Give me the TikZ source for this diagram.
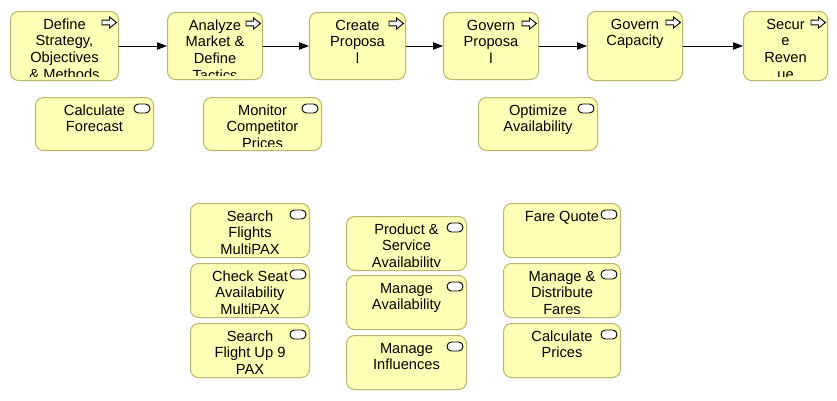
\documentclass[tikz,border=0pt]{standalone}
\usepackage{fontspec}
\setmainfont{Liberation Sans}
\usetikzlibrary{calc,arrows.meta}
\definecolor{boxfill}{RGB}{255,255,181}
\definecolor{boxline}{RGB}{185,180,110}
\tikzset{
  abox/.style={draw=boxline, fill=boxfill, line width=0.75pt, rounded corners=6pt, inner sep=0pt, rectangle},
  lbl/.style={inner sep=0pt, align=center, text=black, font={\fontsize{11pt}{12.5pt}\selectfont}},
  conn/.style={draw=black, line width=0.75pt, -{Triangle[length=7.5pt,width=5.5pt]}},
  procicon/.pic={
    \draw[line width=0.7pt, line join=miter, fill=white]
      (-17,9.2) -- (-9.5,9.2) -- (-9.5,6) -- (-2.5,11.5) -- (-9.5,17) -- (-9.5,13.8) -- (-17,13.8) -- cycle;
  },
  svcicon/.pic={
    \draw[line width=0.7pt, fill=white, rounded corners=3.3pt] (-20,7) rectangle (-4,16);
  }
}
\newcommand\archbox[7]{%
  \node[abox, minimum width={(#4-#2)*0.75pt}, minimum height={(#5-#3)*0.75pt}, anchor=north west] (#1) at (#2,#3) {};
  \begin{scope}
    \clip (#1.north west) rectangle ($(#1.south east)+(0,-5)$);
    \node[lbl, anchor=north] (#1t) at ($(#1.north)+(0,6.9)$) {\rule{0pt}{8.3pt}#6};
  \end{scope}
  \pic at (#1.north east) {#7};
}
\begin{document}
\begin{tikzpicture}[x=0.75pt,y=-0.75pt]
\fill[white] (0,0) rectangle (837,400);
\useasboundingbox (0,0) rectangle (837,400);
% top row
\archbox{d1}{10}{11}{118}{80}{Define\\Strategy,\\Objectives\\\& Methods}{procicon}
\archbox{d2}{167}{12}{262}{79}{Analyze\\Market \&\\Define\\Tactics}{procicon}
\archbox{d3}{309}{12}{405}{79}{Create\\Proposa\\l}{procicon}
\archbox{d4}{443}{12}{538}{79}{Govern\\Proposa\\l}{procicon}
\archbox{d5}{587}{11}{682}{80}{Govern\\Capacity}{procicon}
\archbox{d6}{743}{11}{827}{80}{Secur\\e\\Reven\\ue}{procicon}
\draw[conn] (d1.east) -- (d2.west);
\draw[conn] (d2.east) -- (d3.west);
\draw[conn] (d3.east) -- (d4.west);
\draw[conn] (d4.east) -- (d5.west);
\draw[conn] (d5.east) -- (d6.west);
% second row
\archbox{s1}{35}{97}{153}{150}{Calculate\\Forecast}{svcicon}
\archbox{s2}{203}{97}{321}{150}{Monitor\\Competitor\\Prices}{svcicon}
\archbox{s3}{478}{97}{597}{150}{Optimize\\Availability}{svcicon}
% lower left column
\archbox{b1}{190}{203}{309}{257}{Search\\Flights\\MultiPAX}{svcicon}
\archbox{b2}{190}{263}{309}{317}{Check Seat\\Availability\\MultiPAX}{svcicon}
\archbox{b3}{190}{323}{309}{377}{Search\\Flight Up 9\\PAX}{svcicon}
% lower middle column
\archbox{m1}{346}{216}{466}{270}{Product \&\\Service\\Availability}{svcicon}
\archbox{m2}{346}{275}{466}{329}{Manage\\Availability}{svcicon}
\archbox{m3}{346}{335}{466}{389}{Manage\\Influences}{svcicon}
% lower right column
\archbox{r1}{503}{203}{620}{257}{Fare Quote}{svcicon}
\archbox{r2}{503}{263}{620}{317}{Manage \&\\Distribute\\Fares}{svcicon}
\archbox{r3}{503}{323}{620}{377}{Calculate\\Prices}{svcicon}
\end{tikzpicture}
\end{document}
